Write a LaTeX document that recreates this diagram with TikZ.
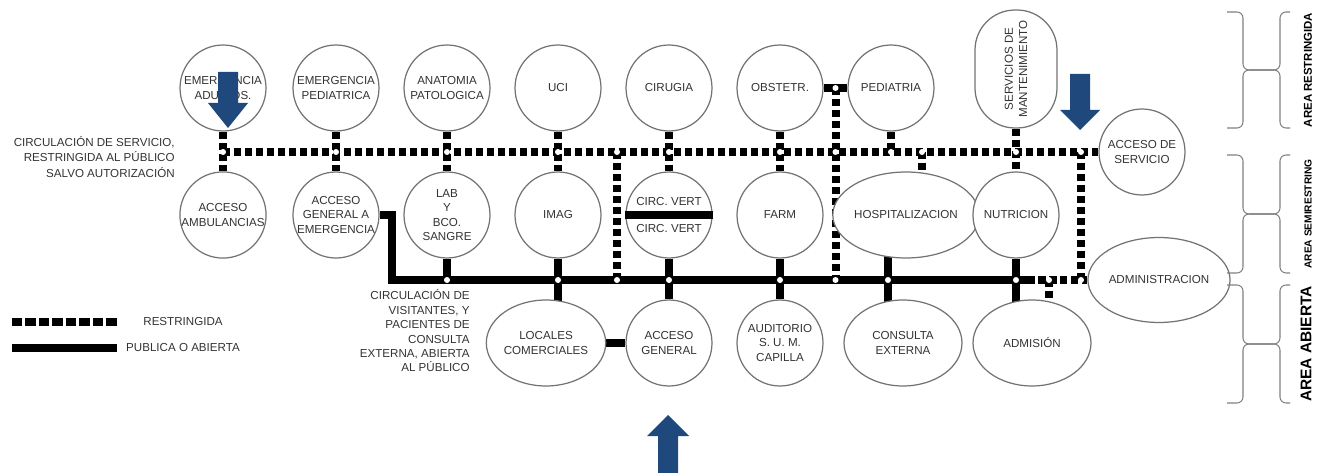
\documentclass[tikz,border=0pt]{standalone}
\usepackage{fontspec}
\setmainfont{Liberation Sans}
\usetikzlibrary{shapes.geometric,calc,backgrounds}
\definecolor{arrowblue}{RGB}{31,73,125}

\begin{document}
\begin{tikzpicture}[x=0.02cm,y=-0.02cm,
    every node/.style={font=\fontsize{6.6}{8.2}\selectfont, text=black!80, align=center, inner sep=0pt},
    room/.style={circle, draw=black!55, fill=white, line width=0.7pt, minimum size=1.72cm},
    wideroom/.style={ellipse, draw=black!55, fill=white, line width=0.7pt, minimum width=2.36cm, minimum height=1.72cm},
    restr/.style={line width=0.16cm, dash pattern=on 0.15cm off 0.07cm},
    publ/.style={line width=0.16cm},
    brace/.style={draw=black!50, line width=0.6pt, rounded corners=0.12cm},
    areatext/.style={rotate=90, text=black}]

    \useasboundingbox (0,0) rectangle (1320,473);

    \def\ry{152}   % restricted circulation
    \def\py{280}   % public circulation

    % upper row
    \node[room] (emad) at (223,88) {EMERGENCIA\\ADULTOS.};
    \node[room] (emped) at (336,88) {EMERGENCIA\\PEDIATRICA};
    \node[room] (anat) at (447,88) {ANATOMIA\\PATOLOGICA};
    \node[room] (uci) at (558,88) {UCI};
    \node[room] (cir) at (669,88) {CIRUGIA};
    \node[room] (obs) at (780,88) {OBSTETR.};
    \node[room] (ped) at (891,88) {PEDIATRIA};
    \node[draw=black!55, fill=white, line width=0.7pt, rounded corners=0.8cm,
        minimum width=2.36cm, minimum height=1.64cm, rotate=90]
        (serv) at (1016,69) {SERVICIOS DE\\MANTENIMIENTO};
    \node[room] (accserv) at (1142,\ry) {ACCESO DE\\SERVICIO};

    % middle row
    \node[room] (ambu) at (223,215) {ACCESO\\AMBULANCIAS};
    \node[room] (accemer) at (336,215) {ACCESO\\GENERAL A\\EMERGENCIA};
    \node[room] (lab) at (447,215) {LAB\\Y\\BCO.\\SANGRE};
    \node[room] (imag) at (558,215) {IMAG};
    \node[room] (circv) at (669,215) {CIRC. VERT\\[7pt]CIRC. VERT};
    \node[room] (farm) at (780,215) {FARM};
    \node[wideroom, minimum width=2.44cm] (hosp) at (906,215) {HOSPITALIZACION};
    \node[room] (nutri) at (1016,215) {NUTRICION};
    \node[wideroom, minimum width=2.4cm, minimum height=1.7cm] (admin) at (1159,\py) {ADMINISTRACION};

    % lower row
    \node[wideroom] (locales) at (546,343) {LOCALES\\COMERCIALES};
    \node[room] (accgen) at (669,343) {ACCESO\\GENERAL};
    \node[room] (audit) at (780,343) {AUDITORIO\\S. U. M.\\CAPILLA};
    \node[wideroom] (consulta) at (903,343) {CONSULTA\\EXTERNA};
    \node[wideroom] (admision) at (1032,343) {ADMISIÓN};

    % circulation notes
    \node[anchor=east, align=right, font=\fontsize{6.6}{8.6}\selectfont] (servnote) at (175,157)
        {CIRCULACIÓN DE SERVICIO,\\RESTRINGIDA AL PÚBLICO\\SALVO AUTORIZACIÓN};
    \node[anchor=east, align=right] (pubnote) at (470,331)
        {CIRCULACIÓN DE\\VISITANTES, Y\\PACIENTES DE\\CONSULTA\\EXTERNA, ABIERTA\\AL PÚBLICO};

    \coordinate (pl) at (392,\py);
    \coordinate (pr) at (1027,\py);
    \coordinate (v1) at (617,\ry);
    \coordinate (v2) at ($(obs.east)!0.5!(ped.west)$);
    \coordinate (v3) at (1081,\ry);
    \coordinate (jh) at (922,\ry);
    \coordinate (jc) at (888,\py);
    \coordinate (ja) at (1049,\py);

    \begin{scope}[on background layer]
        % restricted circulation
        \draw[restr] (emad |- accserv) -- (accserv);
        \foreach \a/\b in {emad/ambu, emped/accemer, anat/lab, uci/imag, cir/circv, obs/farm, serv/nutri}
            \draw[restr] (\a) -- (\b);
        \draw[restr] (ped) -- (ped |- accserv);
        \draw[restr] (jh) -- (jh |- hosp);
        \draw[restr] (v1) -- (v1 |- pl);
        \draw[restr] (v2) -- (v2 |- pl);
        \draw[restr] (v3) -- (v3 |- pl);
        \draw[publ] (obs) -- (ped);

        % public circulation
        \draw[publ, line join=miter] (accemer) -| (pl) -- (pr);
        \draw[restr] (pr) -- (admin);
        \draw[publ] (lab) -- (lab |- pl);
        \draw[publ] (imag) -- (imag |- locales);
        \draw[publ] (circv) -- (accgen);
        \draw[publ] (farm) -- (audit);
        \draw[publ] (jc |- hosp) -- (jc |- consulta);
        \draw[publ] (nutri) -- (nutri |- admision);
        \draw[restr] (ja) -- (ja |- admision);
        \draw[publ] (locales) -- (accgen);

        % junctions
        \foreach \x in {223,336,447,558,617,669,780,835.5,891,922,1016,1081}
            \fill[white] (\x,\ry) circle (0.06cm);
        \foreach \x in {447,558,617,669,780,835.5,888,1016,1049,1081}
            \fill[white] (\x,\py) circle (0.06cm);
        \fill[white] (v2) circle (0.06cm);
    \end{scope}

    \draw[publ] (circv.west) -- (circv.east);

    % legend
    \draw[line width=0.16cm, dash pattern=on 0.21cm off 0.06cm] (12,322) -- (117,322);
    \node (legrestr) at (183,322) {RESTRINGIDA};
    \draw[publ] (12,348) -- (117,348);
    \node (legpubl) at (183,348) {PUBLICA O ABIERTA};

    % areas
    \foreach \t/\m/\b in {12/70/128, 155/214/273, 285/344/403} {
        \draw[brace] (1227,\t) -- (1243,\t) -- (1243,\m) -- (1280,\m) -- (1280,\t) -- (1290,\t);
        \draw[brace] (1227,\b) -- (1243,\b) -- (1243,\m) -- (1280,\m) -- (1280,\b) -- (1290,\b);
    }
    \node[areatext, font=\bfseries\fontsize{6.5}{7}\selectfont] (arearestr) at (1308,70) {AREA RESTRINGIDA};
    \node[areatext, font=\bfseries\fontsize{5.8}{7}\selectfont] (areasemi) at (1308,214) {AREA SEMIRESTRING};
    \node[areatext, font=\bfseries\fontsize{8.8}{9}\selectfont] (areaabi) at (1306,344) {AREA ABIERTA};

    % entrances
    \fill[arrowblue] (218,72) -- (238,72) -- (238,103) -- (248,103) -- (228,128) -- (208,103) -- (218,103) -- cycle;
    \fill[arrowblue] (1070,74) -- (1090,74) -- (1090,110) -- (1100,110) -- (1080,130) -- (1060,110) -- (1070,110) -- cycle;
    \fill[arrowblue] (658,473) -- (658,436) -- (647,436) -- (668,415) -- (689,436) -- (678,436) -- (678,473) -- cycle;
\end{tikzpicture}
\end{document}
